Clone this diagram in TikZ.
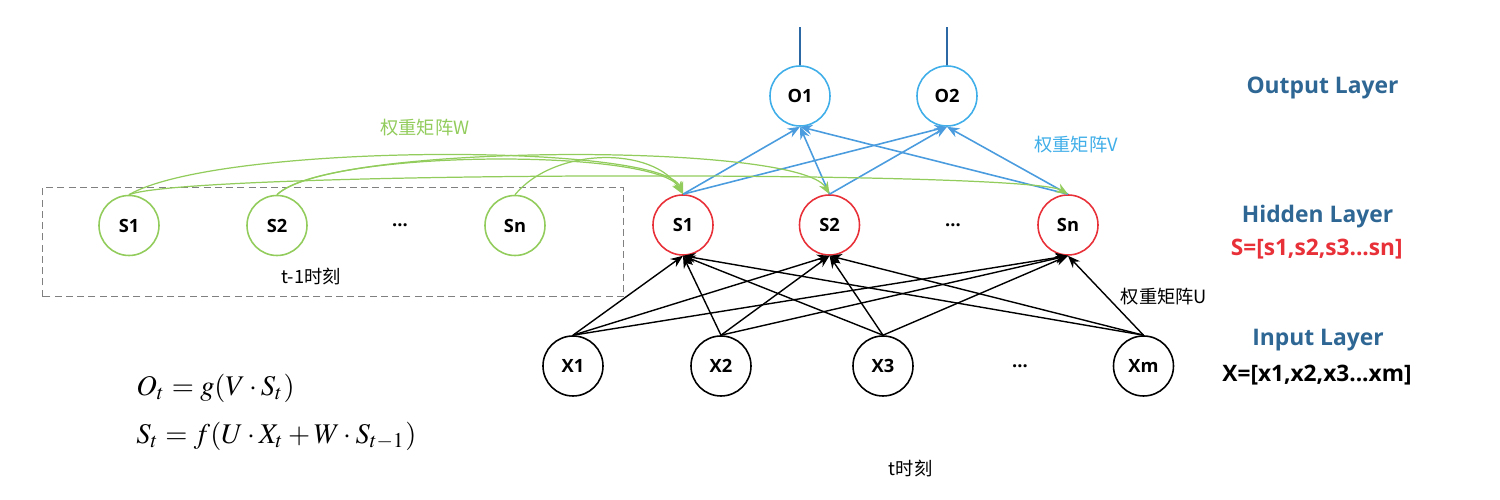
\documentclass[tikz,border=0pt]{standalone}
\usepackage{amsmath}
\usepackage{mathptmx}
\usepackage{fontspec}
\setmainfont{Open Sans}
\newfontfamily\cjk{Noto Sans CJK SC}
\usetikzlibrary{arrows.meta}
\definecolor{wgreen}{RGB}{146,204,92}
\definecolor{hred}{RGB}{232,48,56}
\definecolor{oblue}{RGB}{64,174,232}
\definecolor{vblue}{RGB}{74,156,222}
\definecolor{layerblue}{RGB}{46,102,148}
\definecolor{topblue}{RGB}{44,104,164}
\tikzset{
  neuron/.style={circle, draw, line width=0.45pt, minimum size=0.6cm, inner sep=0pt,
    font=\fontsize{5.2}{6}\selectfont\bfseries},
  prevnode/.style={neuron, draw=wgreen},
  hidnode/.style={neuron, draw=hred},
  outnode/.style={neuron, draw=oblue},
  innode/.style={neuron, draw=black},
  dotsnode/.style={font=\fontsize{5.2}{6}\selectfont\bfseries},
  layertitle/.style={text=layerblue, font=\fontsize{6.5}{7}\selectfont\bfseries},
  vecname/.style={font=\fontsize{6.45}{7}\selectfont\bfseries},
  cjktext/.style={font=\fontsize{5.2}{6}\selectfont\cjk},
  wlink/.style={wgreen, line width=0.35pt, ->},
  vlink/.style={vblue, line width=0.45pt, ->},
  ulink/.style={black, line width=0.4pt, ->},
}

\begin{document}
\begin{tikzpicture}[>={Stealth[length=3.5pt,width=2.8pt]}]
\useasboundingbox (0,0) rectangle (15,5);

% t-1 moment
\draw[dashed, dash pattern=on 2pt off 1.2pt, black!50, line width=0.4pt] (0.427,2.033) rectangle (6.236,3.123);
\node[prevnode] (pS1) at (1.29,2.745) {S1};
\node[prevnode] (pS2) at (2.77,2.745) {S2};
\node[dotsnode] (pdots) at (4.00,2.745) {...};
\node[prevnode] (pSn) at (5.15,2.745) {Sn};
\node[cjktext] (tprev) at (3.11,2.233) {t-1时刻};

% hidden layer
\node[hidnode] (hS1) at (6.83,2.75) {S1};
\node[hidnode] (hS2) at (8.295,2.75) {S2};
\node[dotsnode] (hdots) at (9.53,2.75) {...};
\node[hidnode] (hSn) at (10.68,2.75) {Sn};

% output layer
\node[outnode] (O1) at (8.00,4.04) {O1};
\node[outnode] (O2) at (9.47,4.04) {O2};
\draw[topblue, line width=0.4pt] (O1.north) -- ++(0,0.38);
\draw[topblue, line width=0.4pt] (O2.north) -- ++(0,0.38);

% input layer
\node[innode] (X1) at (5.73,1.34) {X1};
\node[innode] (X2) at (7.21,1.34) {X2};
\node[innode] (X3) at (8.83,1.34) {X3};
\node[dotsnode] (xdots) at (10.20,1.34) {...};
\node[innode] (Xm) at (11.435,1.34) {Xm};

% U and V
\foreach \x in {X1,X2,X3,Xm}
  \foreach \s in {hS1,hS2,hSn}
    \draw[ulink] (\x.north) -- (\s.south);
\foreach \s in {hS1,hS2,hSn}
  \foreach \o in {O1,O2}
    \draw[vlink] (\s.north) -- (\o.south);

% W
\draw[wlink] (pS1.north) .. controls +(0.9,0.52) and +(-0.2,0.52) .. (hS1.north);
\draw[wlink] (pS2.north) .. controls +(0.5,0.46) and +(-0.25,0.46) .. (hS1.north);
\draw[wlink] (pSn.north) .. controls +(0.4,0.48) and +(-0.3,0.48) .. (hS1.north);
\draw[wlink] (pS2.north) .. controls +(0.5,0.52) and +(-0.3,0.52) .. (hS2.north);
\draw[wlink] (pS1.north) .. controls +(0.6,0.24) and +(-0.4,0.24) .. (hSn.north);

% labels
\node[cjktext, text=wgreen] (wname) at (4.25,3.72) {权重矩阵W};
\node[cjktext, text=oblue] (vname) at (10.76,3.55) {权重矩阵V};
\node[cjktext] (uname) at (11.64,2.033) {权重矩阵U};
\node[cjktext] (tnow) at (9.107,0.31) {t时刻};

\node[layertitle] (outtitle) at (13.225,4.12) {Output Layer};
\node[layertitle] (hidtitle) at (13.175,2.833) {Hidden Layer};
\node[vecname, text=hred] (svec) at (13.167,2.507) {S=[s1,s2,s3...sn]};
\node[layertitle] (intitle) at (13.18,1.60) {Input Layer};
\node[vecname] (xvec) at (13.17,1.25) {X=[x1,x2,x3...xm]};

% formulas
\node[anchor=west, font=\fontsize{8.1}{9}\selectfont] (eqO) at (1.24,1.12) {$O_t = g(V\cdot S_t)$};
\node[anchor=west, font=\fontsize{8.1}{9}\selectfont] (eqS) at (1.24,0.64) {$S_t = f(U\cdot X_t + W\cdot S_{t-1})$};
\end{tikzpicture}
\end{document}
